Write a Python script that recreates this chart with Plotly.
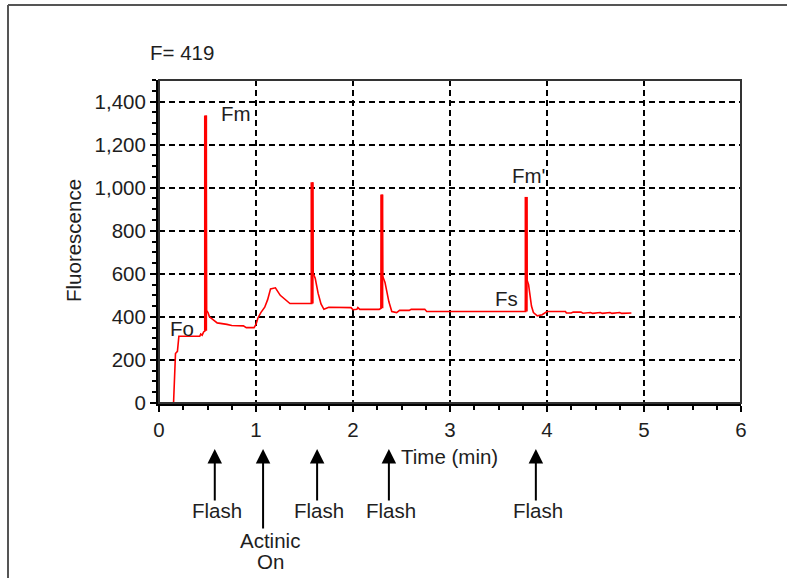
import plotly.graph_objects as go

# ---------------- data ----------------
time_min = [0.15, 0.16, 0.17, 0.19, 0.205, 0.42, 0.43, 0.445, 0.46, 0.475,
            0.48, 0.485, 0.49, 0.505, 0.52, 0.56, 0.6, 0.7, 0.75, 0.87, 0.9, 0.98,
            1.0, 1.02, 1.05, 1.09, 1.12, 1.15, 1.2, 1.25, 1.3, 1.33, 1.35, 1.575,
            1.578, 1.583, 1.59, 1.61, 1.64, 1.67, 1.7, 1.73, 1.75, 1.98, 2.0, 2.04,
            2.05, 2.07, 2.27, 2.29, 2.295, 2.3, 2.305, 2.33, 2.37, 2.4, 2.45, 2.48,
            2.58, 2.6, 2.74, 2.76, 3.78, 3.785, 3.79, 3.795, 3.81, 3.825, 3.84,
            3.86, 3.9, 3.95, 4.0, 4.19, 4.2, 4.25, 4.27, 4.35, 4.37, 4.45, 4.47,
            4.55, 4.57, 4.65, 4.67, 4.75, 4.77, 4.87]
fluorescence = [0, 90, 230, 240, 310, 310, 320, 315, 330, 335,
                1335, 1335, 430, 420, 400, 385, 372, 365, 360, 358, 350, 350,
                365, 395, 420, 445, 480, 530, 535, 500, 480, 470, 462, 462,
                1025, 1025, 600, 580, 510, 460, 435, 440, 445, 443, 433, 435,
                443, 435, 435, 440, 968, 968, 590, 560, 470, 425, 420, 430,
                430, 435, 435, 425, 425, 957, 957, 570, 550, 500, 450,
                420, 405, 410, 425, 425, 418, 418, 422, 422, 417, 420, 416,
                420, 416, 420, 416, 420, 416, 418]

flash_times = [0.48, 1.578, 2.297, 3.785]
flash_bases = [335, 462, 440, 425]
flash_peaks = [1335, 1025, 968, 957]

point_labels = ["Fm", "Fo", "Fm'", "Fs"]
point_label_x = [0.616, 0.093, 3.62, 3.447]
point_label_y = [1343, 347, 1058, 486]

event_labels = [["Flash"], ["Actinic", "On"], ["Flash"], ["Flash"], ["Flash"]]
event_x = [0.575, 1.073, 1.63, 2.37, 3.885]

x_ticks = [0, 1, 2, 3, 4, 5, 6]
y_ticks = [0, 200, 400, 600, 800, 1000, 1200, 1400]

# ---------------- layout geometry ----------------
W, H = 787, 578
ML, MR, MT, MB = 159, 46, 80, 175
PW, PH = W - ML - MR, H - MT - MB


def px_x(px):
    return (px - ML) / PW


def px_y(py):
    return (H - MB - py) / PH


FONT = "Liberation Sans, Arial, sans-serif"
TXT = "#1e1e1e"
FS = 20.5

fig = go.Figure()

fig.add_trace(go.Scatter(x=time_min, y=fluorescence, mode="lines",
                         line=dict(color="#ff0000", width=1.6),
                         hoverinfo="skip", showlegend=False))

sx, sy = [], []
for t, b, p in zip(flash_times, flash_bases, flash_peaks):
    sx += [t, t, None]
    sy += [b, p, None]
fig.add_trace(go.Scatter(x=sx, y=sy, mode="lines",
                         line=dict(color="#ff0000", width=3.2),
                         hoverinfo="skip", showlegend=False))

annotations = []
for lab, x, y in zip(point_labels, point_label_x, point_label_y):
    annotations.append(dict(x=x, y=y, xref="x", yref="y", text=lab,
                            showarrow=False, xanchor="left", yanchor="middle",
                            font=dict(family=FONT, size=FS, color=TXT)))

annotations.append(dict(x=px_x(148), y=px_y(53), xref="paper", yref="paper",
                        text="F= 419", showarrow=False, xanchor="left",
                        yanchor="middle",
                        font=dict(family=FONT, size=FS, color=TXT)))
annotations.append(dict(x=px_x(399), y=px_y(456), xref="paper", yref="paper",
                        text="Time (min)", showarrow=False, xanchor="left",
                        yanchor="middle",
                        font=dict(family=FONT, size=FS, color=TXT)))
annotations.append(dict(x=px_x(73), y=px_y(241), xref="paper", yref="paper",
                        text="Fluorescence", showarrow=False, textangle=-90,
                        xanchor="center", yanchor="middle",
                        font=dict(family=FONT, size=FS, color=TXT)))

tip_y = px_y(449)
for lines, x in zip(event_labels, event_x):
    long = len(lines) > 1
    annotations.append(dict(x=x, y=tip_y, xref="x", yref="paper", text="",
                            showarrow=True, arrowhead=2, arrowsize=1.45,
                            arrowwidth=2, arrowcolor="#000000",
                            ax=0, ay=(81 if long else 53), axref="pixel",
                            ayref="pixel"))
    y0 = 540 if long else 511
    for i, line in enumerate(lines):
        annotations.append(dict(x=x, y=px_y(y0 + 21.7 * i), xref="x",
                                yref="paper", text=line, showarrow=False,
                                xanchor="center", yanchor="middle",
                                xshift=(7 if long else 2),
                                font=dict(family=FONT, size=FS, color=TXT)))

shapes = [
    dict(type="rect", xref="paper", yref="paper", x0=0, x1=1, y0=0, y1=1,
         line=dict(color="#333333", width=2), layer="above"),
    dict(type="line", xref="paper", yref="paper", x0=px_x(8), x1=px_x(W + 5),
         y0=px_y(5), y1=px_y(5), line=dict(color="#555555", width=2)),
    dict(type="line", xref="paper", yref="paper", x0=px_x(8), x1=px_x(8),
         y0=px_y(5), y1=px_y(H + 5), line=dict(color="#555555", width=2)),
]

axis_common = dict(showline=True, linewidth=3, linecolor="#000000",
                   ticks="outside", ticklen=6, tickwidth=1.5,
                   tickcolor="#000000", showgrid=True, gridcolor="#000000",
                   gridwidth=1.5, griddash="6px,4px", zeroline=False,
                   tickfont=dict(family=FONT, size=FS, color=TXT))

fig.update_layout(
    width=W, height=H,
    margin=dict(l=ML, r=MR, t=MT, b=MB, pad=0),
    paper_bgcolor="#ffffff", plot_bgcolor="#ffffff",
    xaxis=dict(range=[0, 6], tickvals=x_ticks, ticktext=[str(v) for v in x_ticks],
               minor=dict(dtick=0.25, ticks="outside", ticklen=4,
                          tickcolor="#000000", showgrid=False),
               **axis_common),
    yaxis=dict(range=[0, 1500], tickvals=y_ticks,
               ticktext=[f"{v:,}" for v in y_ticks],
               minor=dict(dtick=50, ticks="outside", ticklen=4,
                          tickcolor="#000000", showgrid=False),
               **axis_common),
    annotations=annotations,
    shapes=shapes,
    showlegend=False,
)

fig.write_html("out.html", config={"displayModeBar": False},
               post_script="document.body.style.margin='0px';")
